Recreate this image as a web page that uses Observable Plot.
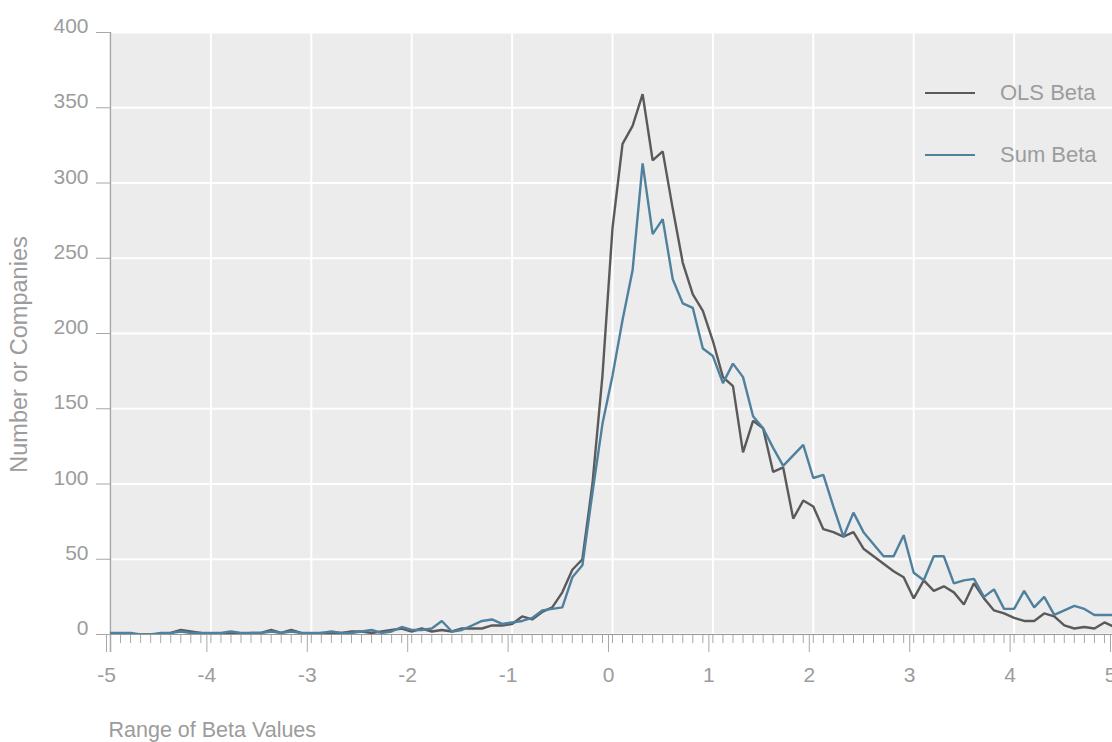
<!DOCTYPE html>
<html>
<head>
<meta charset="utf-8">
<script src="https://cdn.jsdelivr.net/npm/d3@7"></script>
<script src="https://cdn.jsdelivr.net/npm/@observablehq/plot@0.6"></script>
<style>
  html, body { margin: 0; padding: 0; background: #ffffff; }
  #wrap { position: relative; width: 1112px; height: 742px; overflow: hidden; }
  #wrap svg { display: block; }
  .legend { position: absolute; left: 925px; top: 78px; font-family: "Liberation Sans", Arial, sans-serif; font-size: 22px; color: #9c9c9c; }
  .legend .item { display: flex; align-items: center; height: 30px; margin-bottom: 32px; }
  .legend .swatch { width: 50px; height: 0; border-top: 2px solid; margin-right: 25px; }
</style>
</head>
<body>
<div id="wrap"></div>
<script>
// Bin centres of beta values
const beta = [
  -5.0,-4.9,-4.8,-4.7,-4.6,-4.5,-4.4,-4.3,-4.2,-4.1,
  -4.0,-3.9,-3.8,-3.7,-3.6,-3.5,-3.4,-3.3,-3.2,-3.1,
  -3.0,-2.9,-2.8,-2.7,-2.6,-2.5,-2.4,-2.3,-2.2,-2.1,
  -2.0,-1.9,-1.8,-1.7,-1.6,-1.5,-1.4,-1.3,-1.2,-1.1,
  -1.0,-0.9,-0.8,-0.7,-0.6,-0.5,-0.4,-0.3,-0.2,-0.1,
   0.0, 0.1, 0.2, 0.3, 0.4, 0.5, 0.6, 0.7, 0.8, 0.9,
   1.0, 1.1, 1.2, 1.3, 1.4, 1.5, 1.6, 1.7, 1.8, 1.9,
   2.0, 2.1, 2.2, 2.3, 2.4, 2.5, 2.6, 2.7, 2.8, 2.9,
   3.0, 3.1, 3.2, 3.3, 3.4, 3.5, 3.6, 3.7, 3.8, 3.9,
   4.0, 4.1, 4.2, 4.3, 4.4, 4.5, 4.6, 4.7, 4.8, 4.9,
   5.0
];
// Number of companies per bin, OLS beta
const olsBeta = [
  0,0,0,0,0,0,1,3,2,1,
  0,0,1,0,1,1,3,1,3,1,
  0,1,1,1,2,2,1,2,3,4,
  2,4,2,3,2,4,4,4,6,6,
  7,12,10,15,18,28,43,50,100,172,
  270,326,338,359,315,321,283,247,226,215,
  195,171,165,121,142,137,108,111,77,89,
  85,70,68,65,68,57,52,47,42,38,
  24,36,29,32,28,20,34,24,16,14,
  11,9,9,14,12,6,4,5,4,8,
  5
];
// Number of companies per bin, Sum beta
const sumBeta = [
  1,1,1,0,0,1,1,2,1,1,
  1,1,2,1,1,1,2,1,2,1,
  1,1,2,1,1,2,3,1,2,5,
  3,3,4,9,2,3,6,9,10,7,
  8,9,11,16,17,18,38,46,94,140,
  172,209,242,313,266,276,236,220,217,190,
  185,167,180,171,145,137,124,112,119,126,
  104,106,85,65,81,68,60,52,52,66,
  41,36,52,52,34,36,37,25,30,17,
  17,29,18,25,13,16,19,17,13,13,
  13
];
const seriesNames = ["OLS Beta", "Sum Beta"];
const seriesColors = ["#5a5a5a", "#4f819e"];
const xTicks = [-5,-4,-3,-2,-1,0,1,2,3,4,5];
const yTicks = [0,50,100,150,200,250,300,350,400];
const minorTicks = d3.range(-50, 51).map(d => d / 10);
const xTitle = "Range of Beta Values";
const yTitle = "Number or Companies";

const rows = [];
beta.forEach((b, i) => {
  rows.push({beta: b, count: olsBeta[i], series: seriesNames[0]});
  rows.push({beta: b, count: sumBeta[i], series: seriesNames[1]});
});

const chart = Plot.plot({
  width: 1112,
  height: 742,
  marginLeft: 110,
  marginRight: 0,
  marginTop: 32,
  marginBottom: 108,
  x: {domain: [-5, 4.98]},
  y: {domain: [0, 400]},
  color: {domain: seriesNames, range: seriesColors},
  style: {fontFamily: "'Liberation Sans', Arial, sans-serif", fontSize: "21px", color: "#9c9c9c", background: "#ffffff"},
  marks: [
    Plot.frame({fill: "#ececec", stroke: null}),
    Plot.gridX({ticks: xTicks, stroke: "#ffffff", strokeOpacity: 1, strokeWidth: 2}),
    Plot.gridY({ticks: yTicks, stroke: "#ffffff", strokeOpacity: 1, strokeWidth: 2}),
    Plot.axisX({ticks: minorTicks, tickSize: 9, tickFormat: () => "", label: null, stroke: "#a8a8a8"}),
    Plot.axisX({ticks: xTicks, tickSize: 18, tickPadding: 15, dx: -4, tickFormat: d => String(d), stroke: "#a8a8a8", label: null}),
    Plot.axisY({ticks: yTicks, tickSize: 14, text: null, label: null, stroke: "#a8a8a8"}),
    Plot.axisY({ticks: yTicks, tickSize: 0, tickPadding: 22, dy: -6, tickFormat: d => String(d), label: null}),
    Plot.text([xTitle], {text: d => d, frameAnchor: "bottom-left", textAnchor: "start", lineAnchor: "middle", dx: -2, dy: 96, fontSize: 21.5, fill: "#9c9c9c"}),
    Plot.text([yTitle], {text: d => d, frameAnchor: "left", rotate: -90, textAnchor: "middle", lineAnchor: "middle", dx: -91, dy: 21, fontSize: 23.5, fill: "#9c9c9c"}),
    Plot.ruleX([-5], {stroke: "#a8a8a8", strokeWidth: 1.5, insetBottom: -18}),
    Plot.ruleY([0], {stroke: "#999999", strokeWidth: 1}),
    Plot.line(rows, {x: "beta", y: "count", stroke: "series", strokeWidth: 2.4, strokeLinejoin: "miter", clip: true})
  ]
});

const wrap = document.getElementById("wrap");
wrap.appendChild(chart);

const legend = document.createElement("div");
legend.className = "legend";
seriesNames.forEach((name, i) => {
  const item = document.createElement("div");
  item.className = "item";
  const sw = document.createElement("span");
  sw.className = "swatch";
  sw.style.borderTopColor = seriesColors[i];
  const tx = document.createElement("span");
  tx.textContent = name;
  item.appendChild(sw);
  item.appendChild(tx);
  legend.appendChild(item);
});
wrap.appendChild(legend);
</script>
</body>
</html>
